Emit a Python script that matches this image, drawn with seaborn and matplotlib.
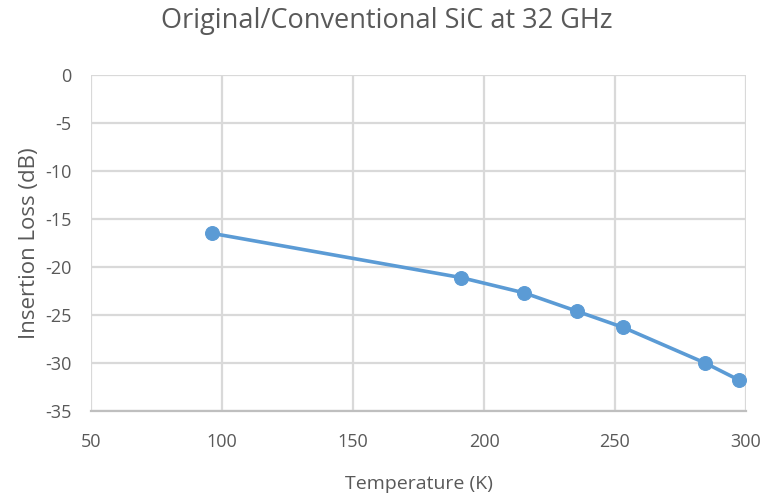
import matplotlib
matplotlib.use("Agg")
import matplotlib.pyplot as plt
import seaborn as sns
import pandas as pd

temperature_k = [96.3, 191.2, 215.4, 235.4, 253.2, 284.4, 297.5]
insertion_loss_db = [-16.5, -21.1, -22.7, -24.6, -26.3, -30.0, -31.8]
x_ticks = [50, 100, 150, 200, 250, 300]
y_ticks = [0, -5, -10, -15, -20, -25, -30, -35]

sns.set_theme(style="white")
plt.rcParams["font.family"] = ["Open Sans", "DejaVu Sans"]
plt.rcParams["axes.unicode_minus"] = False

df = pd.DataFrame({"Temperature (K)": temperature_k, "Insertion Loss (dB)": insertion_loss_db})

fig = plt.figure(figsize=(7.74, 4.95), dpi=100)
ax = fig.add_axes([91 / 774, 1 - 411 / 495, (746 - 91) / 774, (411 - 75) / 495])

line_color = "#5B9BD5"
grid_color = "#D9D9D9"
text_color = "#595959"

sns.lineplot(data=df, x="Temperature (K)", y="Insertion Loss (dB)", ax=ax,
             color=line_color, linewidth=2.6, marker="o", markersize=10,
             markeredgecolor=line_color, markerfacecolor=line_color, zorder=3)

ax.set_xlim(50, 300)
ax.set_ylim(-35, 0)
ax.set_xticks(x_ticks)
ax.set_yticks(y_ticks)
ax.grid(True, color=grid_color, linewidth=1.6)
ax.set_axisbelow(True)
for side in ["top", "right", "left"]:
    ax.spines[side].set_visible(False)
ax.spines["bottom"].set_color("#BFBFBF")
ax.spines["bottom"].set_linewidth(1.6)
ax.tick_params(axis="x", length=0, labelsize=13, colors=text_color, pad=16)
ax.tick_params(axis="y", length=0, labelsize=13, colors=text_color, pad=14)

ax.set_xlabel("Temperature (K)", fontsize=14, color=text_color, labelpad=17)
ax.set_ylabel("Insertion Loss (dB)", fontsize=16, color=text_color, labelpad=4)
fig.suptitle("Original/Conventional SiC at 32 GHz", fontsize=19.5, color=text_color, y=0.985)

fig.savefig("out.png", dpi=100)
